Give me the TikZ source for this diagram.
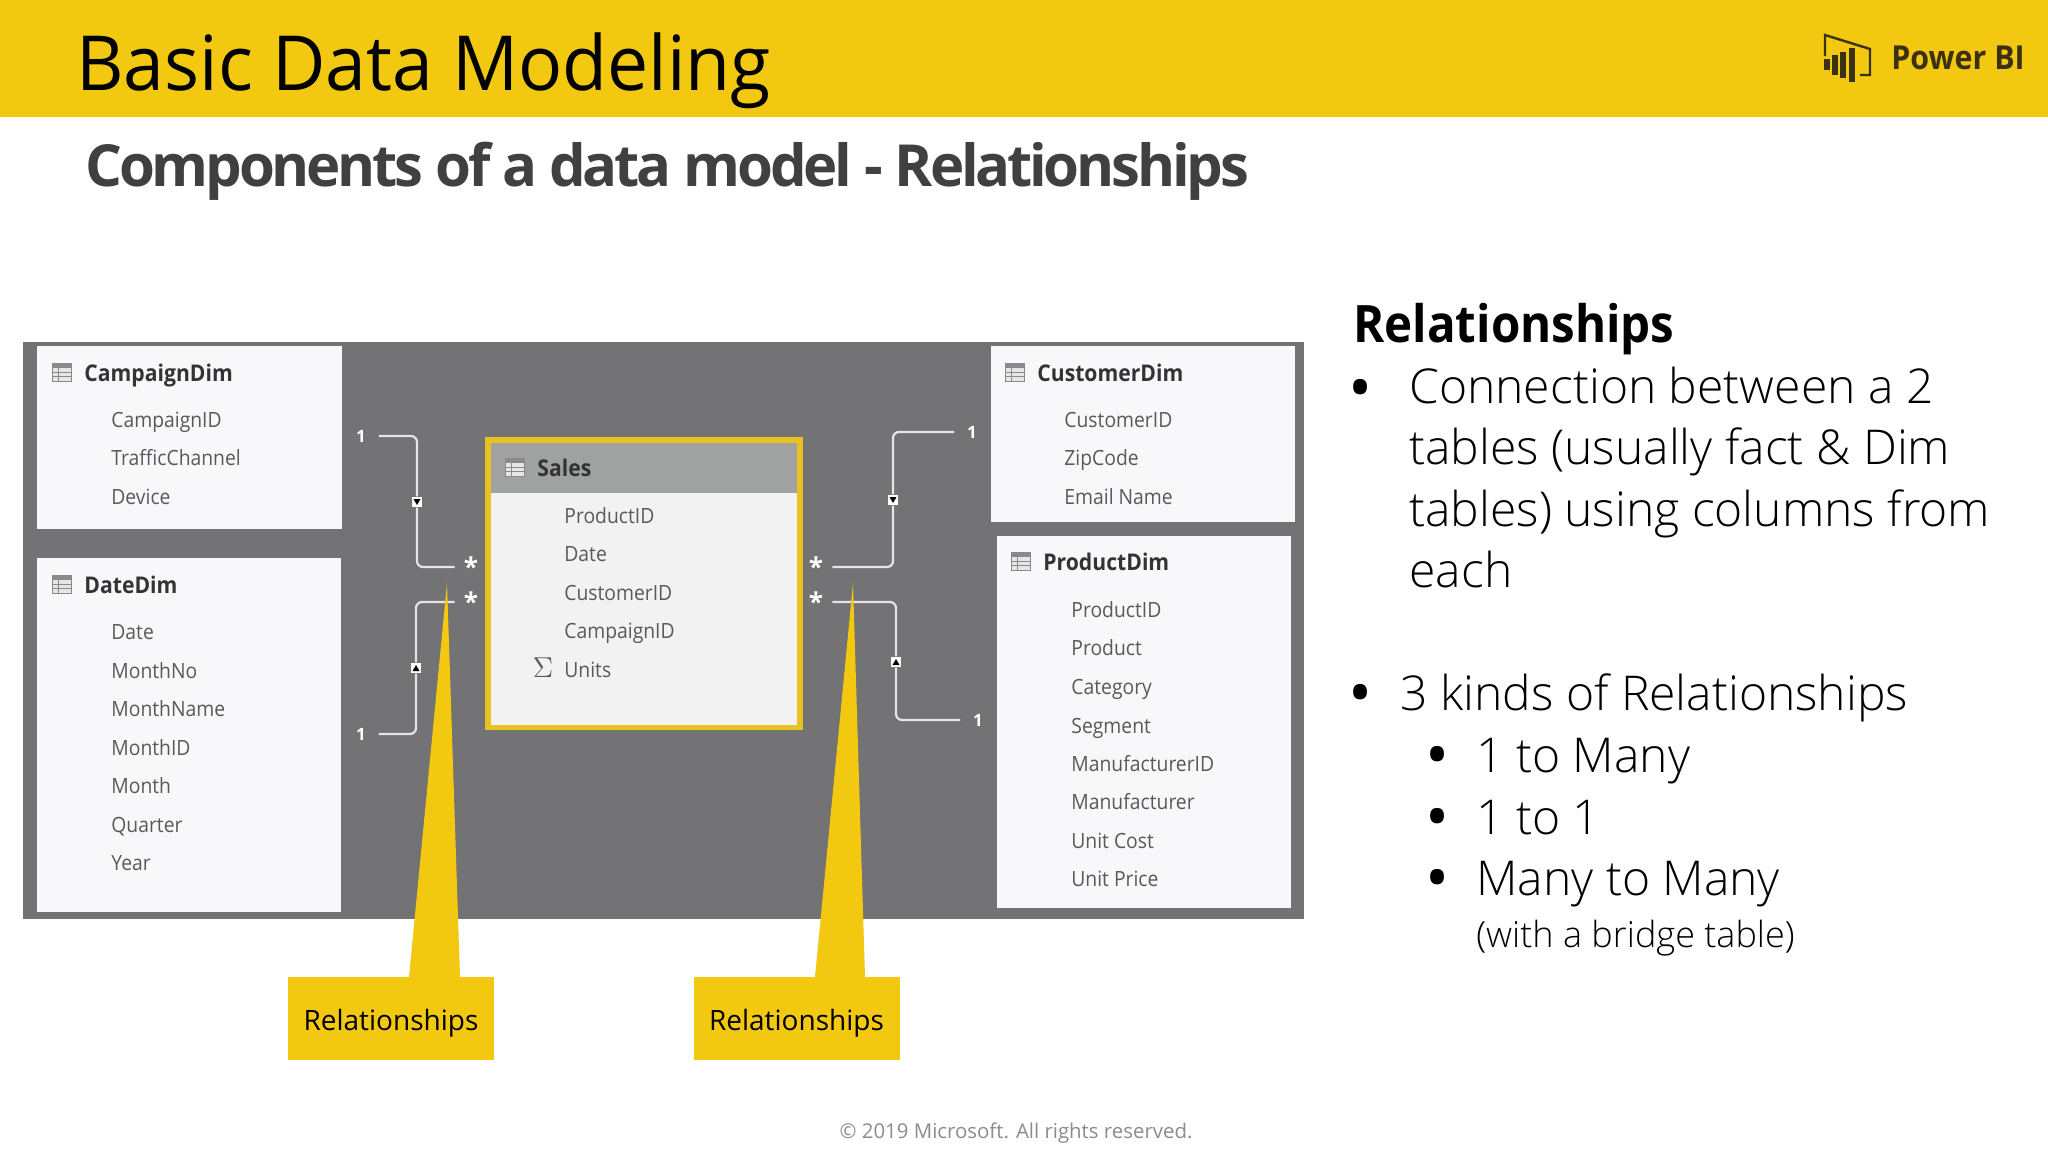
\documentclass[tikz,border=0pt]{standalone}
\usepackage{fontspec}
\setmainfont{Open Sans}
\newfontfamily\lightFont{Open Sans Light}
\newfontfamily\tableFont[FakeStretch=0.92]{Open Sans}
\newfontfamily\titleFont[FakeStretch=0.965]{Open Sans}
\newfontfamily\subFont[LetterSpace=-5.5]{Open Sans}
\definecolor{bandYellow}{HTML}{F2C811}
\definecolor{salesYellow}{HTML}{E8C21E}
\definecolor{panelGray}{HTML}{737274}
\definecolor{salesGray}{HTML}{A0A2A1}
\definecolor{boxWhite}{HTML}{F8F7F9}
\definecolor{salesWhite}{HTML}{F2F2F3}
\definecolor{headText}{HTML}{333335}
\definecolor{fieldText}{HTML}{59595B}
\definecolor{subText}{HTML}{404040}
\definecolor{iconGray}{HTML}{8A8A8C}
\definecolor{iconCell}{HTML}{E6E6E7}
\definecolor{logoDark}{HTML}{3B3010}
\newcommand{\tableIcon}[2]{%%
  \fill[iconGray] (#1,#2) rectangle ++(20,19);
  \foreach \col in {0,1,2}
    \foreach \row in {0,1,2}
      \fill[iconCell] (#1+1+6.2*\col,#2+5+4.6*\row) rectangle ++(5.4,3.8);
}
\newcommand{\tableBox}[4]{%%
  \fill[boxWhite] (#1,#2) rectangle (#3,#4);
}
\newcommand{\tableHead}[4]{%%
  \node[headStyle] (#4) at (#1,#2) {#3};
  \tableIcon{#1-32}{#2-10}
}
\newcommand{\relationMark}[4]{%%
  \node[markStyle] (#1) at (#2,#3) {};
  \fill[black] (#1.center) ++(-3.5,-3*#4) -- ++(7,0) -- ++(-3.5,6*#4) -- cycle;
}
\begin{document}
\begin{tikzpicture}[x=0.5pt,y=-0.5pt,%%
  inner sep=0pt,%%
  headStyle/.style={anchor=west,font=\tableFont\fontsize{11.5}{14}\selectfont\bfseries,text=headText,text height=11pt,text depth=2.6pt},%%
  fieldStyle/.style={anchor=west,font=\tableFont\fontsize{10.5}{14}\selectfont,text=fieldText,text height=10pt,text depth=2pt},%%
  lineStyle/.style={-,white!90!black,line width=1.1pt,rounded corners=3pt},%%
  markStyle/.style={fill=white,minimum size=5.2pt},%%
  starStyle/.style={text=white,minimum width=16pt,font=\fontsize{13}{14}\selectfont\bfseries},%%
  oneStyle/.style={text=white,minimum width=17.5pt,font=\fontsize{8.5}{10}\selectfont\bfseries},%%
  calloutStyle/.style={fill=bandYellow,minimum width=103pt,minimum height=41.5pt,font=\fontsize{14}{18}\selectfont,text height=15pt,text depth=3pt},%%
  textStyle/.style={anchor=base west,font=\lightFont\fontsize{24}{30}\selectfont},%%
  dotStyle/.style={anchor=base,font=\fontsize{32}{34}\selectfont}
]
%%
\useasboundingbox (0,0) rectangle (2048,1152);
\fill[white] (0,0) rectangle (2048,1152);
%%
%% The header.
\fill[bandYellow] (0,0) rectangle (2048,117);
\node[anchor=base west,font=\titleFont\fontsize{38}{46}\selectfont,text=black] (title) at (76,90) {Basic Data Modeling};
\node[anchor=base west,font=\subFont\fontsize{29}{34}\selectfont\bfseries,text=subText] (subtitle) at (85,186) {Components of a data model - Relationships};
\node[anchor=base west,font=\tableFont\fontsize{16.5}{20}\selectfont\bfseries,text=logoDark] (powerbi) at (1891,69) {Power BI};
\draw[logoDark,line width=1.2pt] (1825,56) -- (1825,35) -- (1870,49) -- (1870,75) -- (1860,75);
\foreach \xa/\ya/\yb in {1827/59/70,1835/55/75,1843/52/78,1852/48/82}
  \draw[logoDark,line width=2.8pt] (\xa,\ya) -- (\xa,\yb);
%%
%% The model panel and its tables.
\fill[panelGray] (23,342) rectangle (1304,919);
\tableBox{37}{346}{342}{529}
\tableBox{37}{558}{341}{912}
\tableBox{991}{346}{1295}{522}
\tableBox{997}{536}{1291}{908}
\fill[salesYellow] (485,437) rectangle (803,730);
\fill[salesWhite] (491,443) rectangle (797,725);
\fill[salesGray] (491,443) rectangle (797,493);
\tableHead{84}{373}{CampaignDim}{campaignDim}
\tableHead{84}{585}{DateDim}{dateDim}
\tableHead{1037}{373}{CustomerDim}{customerDim}
\tableHead{1043}{562}{ProductDim}{productDim}
\tableHead{537}{468}{Sales}{sales}
\foreach \ya/\tx in {419/CampaignID,457/TrafficChannel,496/Device}
  \node[fieldStyle] at (111,\ya) {\tx};
\foreach \ya/\tx in {631/Date,670/MonthNo,708/MonthName,747/MonthID,785/Month,824/Quarter,862/Year}
  \node[fieldStyle] at (111,\ya) {\tx};
\foreach \ya/\tx in {419/CustomerID,457/ZipCode,496/Email Name}
  \node[fieldStyle] at (1064,\ya) {\tx};
\foreach \ya/\tx in {609/ProductID,647/Product,686/Category,725/Segment,763/ManufacturerID,801/Manufacturer,840/Unit Cost,878/Unit Price}
  \node[fieldStyle] at (1071,\ya) {\tx};
\foreach \ya/\tx in {515/ProductID,553/Date,592/CustomerID,630/CampaignID,669/Units}
  \node[fieldStyle] at (564,\ya) {\tx};
\node[text=fieldText,font=\fontsize{15}{16}\selectfont] (sigma) at (543,668) {$\Sigma$};
%%
%% The relationship lines.
\node[oneStyle] (oneCampaign) at (361,436) {1};
\node[starStyle] (starCampaign) at (471,567) {*};
\node[oneStyle] (oneDate) at (361,734) {1};
\node[starStyle] (starDate) at (471,602) {*};
\node[oneStyle] (oneCustomer) at (972,432) {1};
\node[starStyle] (starCustomer) at (816,567) {*};
\node[oneStyle] (oneProduct) at (978,720) {1};
\node[starStyle] (starProduct) at (816,602) {*};
\relationMark{markCampaign}{417}{502}{1}
\relationMark{markDate}{416}{668}{-1}
\relationMark{markCustomer}{893}{500}{1}
\relationMark{markProduct}{896}{662}{-1}
\draw[lineStyle] (oneCampaign.east) -| (markCampaign.north);
\draw[lineStyle] (markCampaign.south) |- (starCampaign.west);
\draw[lineStyle] (oneDate.east) -| (markDate.south);
\draw[lineStyle] (markDate.north) |- (starDate.west);
\draw[lineStyle] (oneCustomer.west) -| (markCustomer.north);
\draw[lineStyle] (markCustomer.south) |- (starCustomer.east);
\draw[lineStyle] (oneProduct.west) -| (markProduct.south);
\draw[lineStyle] (markProduct.north) |- (starProduct.east);
%%
%% The callouts.
\coordinate (tipLeft) at (447,583);
\coordinate (tipRight) at (853,583);
\fill[bandYellow] (tipLeft) -- (409,977) -- (460,977) -- cycle;
\fill[bandYellow] (tipRight) -- (815,977) -- (865,977) -- cycle;
\node[calloutStyle] (calloutLeft) at (391,1018) {Relationships};
\node[calloutStyle] (calloutRight) at (796.5,1018) {Relationships};
%%
%% The text on the right.
\node[anchor=base west,font=\tableFont\fontsize{25.8}{30}\selectfont\bfseries,text=black] (relHead) at (1353,342) {Relationships};
\node[dotStyle] (dotA) at (1361,410.5) {•};
\node[anchor=north west,align=left,font=\lightFont\fontsize{24}{30.7}\selectfont] (dotAText) at (1409,366.5) {Connection between a 2\\tables (usually fact \& Dim\\tables) using columns from\\each};
\node[dotStyle] (dotB) at (1361,715.5) {•};
\node[textStyle] (dotBText) at (1400,710) {3 kinds of Relationships};
\foreach \ya/\tx in {772/1 to Many,834/1 to 1,895/Many to Many} {
  \node[dotStyle] at (1438,\ya+5.5) {•};
  \node[textStyle] at (1476,\ya) {\tx};
}
\node[anchor=base west,font=\lightFont\fontsize{18}{22}\selectfont] (bridge) at (1476,947) {(with a bridge table)};
\node[font=\fontsize{10.2}{13}\selectfont,text=black!45] (copyright) at (1016,1133) {© 2019 Microsoft. All rights reserved.};
\end{tikzpicture}
\end{document}
